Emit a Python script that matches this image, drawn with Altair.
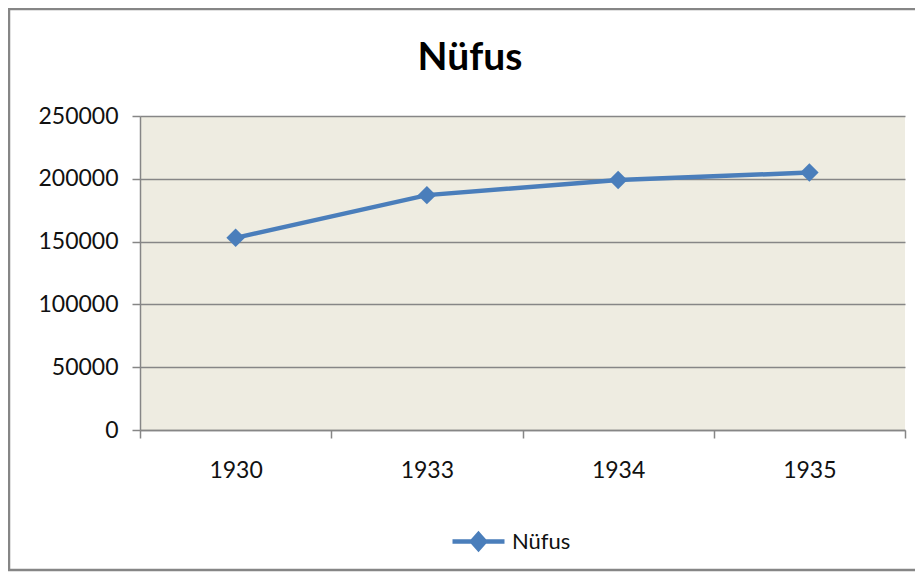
import altair as alt
import pandas as pd

years = ["1930", "1933", "1934", "1935"]
population = [153000, 187000, 199000, 205000]
series_name = ["Nüfus", "Nüfus", "Nüfus", "Nüfus"]
y_ticks = [0, 50000, 100000, 150000, 200000, 250000]
chart_title = ["Nüfus"]

df = pd.DataFrame({"year": years, "pop": population, "series": series_name})

BLUE = "#4A7EBB"
GRAY = "#868686"
FONT = "Lato"

x_enc = alt.X(
    "year:O",
    sort=years,
    scale=alt.Scale(type="band", paddingInner=0, paddingOuter=0),
    axis=alt.Axis(
        title=None, labelAngle=0, tickBand="extent", tickSize=8,
        tickColor=GRAY, tickWidth=1.5, domainColor=GRAY, domainWidth=1.5,
        labelFont=FONT, labelFontSize=23, labelColor="#111111",
        labelPadding=21, grid=False,
    ),
)
y_enc = alt.Y(
    "pop:Q",
    scale=alt.Scale(domain=[0, 250000], nice=False),
    axis=alt.Axis(
        title=None, values=y_ticks, format="d", tickSize=8,
        tickColor=GRAY, tickWidth=1.5, domainColor=GRAY, domainWidth=1.5,
        grid=True, gridColor=GRAY, gridWidth=1.5,
        labelFont=FONT, labelFontSize=23, labelColor="#111111", labelPadding=14,
    ),
)

base = alt.Chart(df)

line = base.mark_line(strokeWidth=4.5).encode(
    x=x_enc,
    y=y_enc,
    color=alt.Color(
        "series:N",
        scale=alt.Scale(domain=["Nüfus"], range=[BLUE]),
        legend=alt.Legend(
            title=None, orient="none", legendX=310, legendY=397,
            symbolType="M-1,0H1M0,-0.28L0.25,0L0,0.28L-0.25,0Z",
            symbolSize=2704, symbolStrokeWidth=4.5,
            symbolFillColor=BLUE, symbolStrokeColor=BLUE,
            labelFont=FONT, labelFontSize=22, labelColor="#111111",
            labelOffset=5, padding=0,
        ),
    ),
)

points = base.mark_point(shape="diamond", filled=True, size=340, opacity=1, color=BLUE).encode(
    x=x_enc, y=y_enc
)

border = alt.Chart(pd.DataFrame({"a": [0]})).mark_rect(
    filled=False, stroke=GRAY, strokeWidth=2.5
).encode(
    x=alt.value(-131), x2=alt.value(800), y=alt.value(-107), y2=alt.value(454)
)

title = alt.Chart(pd.DataFrame({"t": chart_title})).mark_text(
    font=FONT, fontSize=39, fontWeight="bold", color="black",
    align="center", baseline="alphabetic",
).encode(
    text="t:N", x=alt.value(330), y=alt.value(-46)
)

chart = alt.layer(border, line, points, title).properties(
    width=765,
    height=314,
    autosize=alt.AutoSizeParams(type="none"),
    padding={"left": 132, "top": 108, "right": 10, "bottom": 142},
).configure_view(fill="#EEECE1", stroke=None)

chart.save("out.html", embed_options={"renderer": "svg", "actions": False})
